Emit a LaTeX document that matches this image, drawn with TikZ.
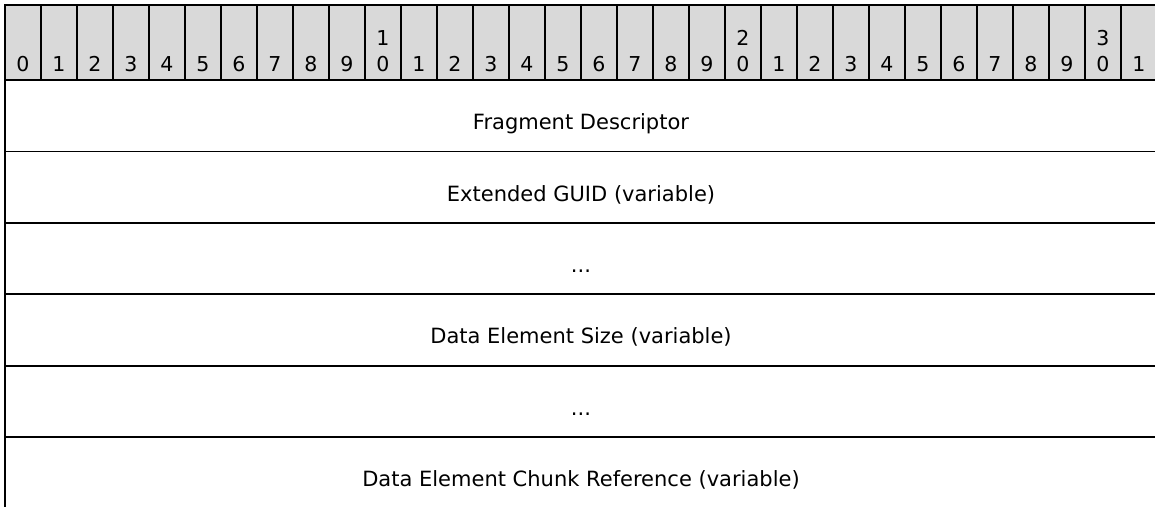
\documentclass[tikz,border=0pt]{standalone}
\usepackage{fontspec}
\setmainfont{DejaVu Sans}
\usepackage{tikz}
\usetikzlibrary{positioning}
\definecolor{headgray}{HTML}{D9D9D9}
\tikzset{
  bitcell/.style={draw, fill=headgray, line width=1.8pt, minimum width=36pt,
    minimum height=75pt, inner sep=0pt, outer sep=0pt},
  bitnum/.style={anchor=south, inner sep=0pt, align=center,
    font=\fontsize{20.5}{26.5}\selectfont},
  fieldrow/.style={draw, line width=1.8pt, minimum width=1152pt,
    minimum height=71.4pt, inner sep=0pt, outer sep=0pt,
    text height=27.8pt, text depth=0pt, font=\fontsize{21}{24}\selectfont}
}

\begin{document}
\begin{tikzpicture}[x=1pt,y=-1pt]
        \useasboundingbox (0,0) rectangle (1155,506);
        % Draw the bit header
        \foreach \i in {0,...,31} {
          \pgfmathtruncatemacro{\ones}{mod(\i,10)}
          \pgfmathtruncatemacro{\tens}{div(\i,10)}
          \def\lab{\ones}
          \ifnum\ones=0 \ifnum\i>0 \def\lab{\tens\\\ones}\fi\fi
          \node[bitcell] (cell\i) at ({23+36*\i}, 42.5) {};
          \node[bitnum] (num\i) at ({23+36*\i}, 72) {\lab};
        }
        % Draw the fields
        \foreach \t [count=\n] in {Fragment Descriptor, Extended GUID (variable), {{...}},
            Data Element Size (variable), {{...}}, Data Element Chunk Reference (variable)}
          \node[fieldrow] (row\n) at (581, {80+71.4*\n-35.7}) {\t};
      \end{tikzpicture}
\end{document}
